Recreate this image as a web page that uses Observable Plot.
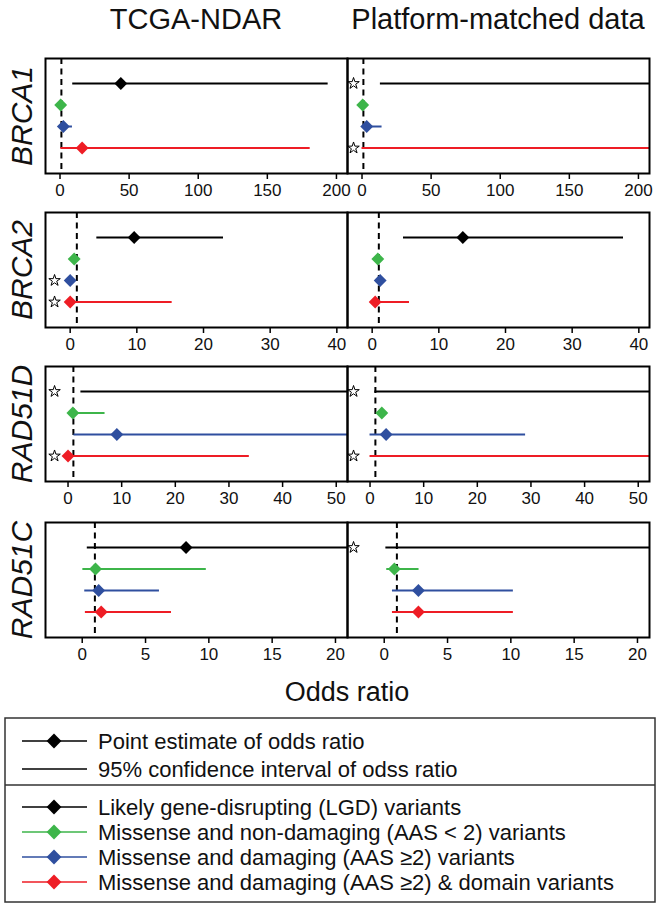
<!DOCTYPE html>
<html>
<head>
<meta charset="utf-8">
<script src="https://cdn.jsdelivr.net/npm/d3@7"></script>
<script src="https://cdn.jsdelivr.net/npm/@observablehq/plot@0.6"></script>
<style>
  html, body { margin: 0; padding: 0; background: white; }
  #root { position: relative; width: 661px; height: 908px; font-family: 'Liberation Sans', Arial, Helvetica, sans-serif; color: #111; overflow: hidden; }
  .abs { position: absolute; }
  .title { font-size: 29px; white-space: nowrap; transform: translate(-50%, -50%); }
  .gene { font-size: 30px; font-style: italic; white-space: nowrap; transform: translate(-50%, -50%) rotate(-90deg); }
</style>
</head>
<body>
<div id="root"></div>
<script>
// ---------------- data ----------------
const genes = ["BRCA1", "BRCA2", "RAD51D", "RAD51C"];
const datasets = ["TCGA-NDAR", "Platform-matched data"];
const variantLabels = [
  "Likely gene-disrupting (LGD) variants",
  "Missense and non-damaging (AAS < 2) variants",
  "Missense and damaging (AAS \u22652) variants",
  "Missense and damaging (AAS \u22652) & domain variants"
];
const variantColors = ["#000000", "#3db54a", "#2f4f9f", "#ee1d25"];
const xDomains = [[-10.5, 208], [-3.7, 41.6], [-4.2, 52.1], [-2.9, 20.95]];
const xTicks = [[0, 50, 100, 150, 200], [0, 10, 20, 30, 40], [0, 10, 20, 30, 40, 50], [0, 5, 10, 15, 20]];
const nullOddsRatio = 1;

// [gene][variant class]
const tcgaEst  = [[44, 0.5, 2.4, 16], [9.6, 0.6, 0, 0], [null, 0.9, 9.1, 0], [8.2, 1.05, 1.3, 1.5]];
const tcgaLow  = [[9.2, 0.2, 0.5, 0.6], [4.0, 0.3, null, 0], [2.4, 0.1, 1.1, 0], [0.4, 0.05, 0.2, 0.25]];
const tcgaHigh = [[194, 1.0, 9, 181], [23.0, 1.2, null, 15.3], [Infinity, 6.9, Infinity, 33.8], [Infinity, 9.8, 6.1, 7.05]];
const tcgaStar = [[0, 0, 0, 0], [0, 0, 1, 1], [1, 0, 0, 1], [0, 0, 0, 0]];

const platEst  = [[null, 0.5, 3.4, null], [13.6, 0.85, 1.2, 0.45], [null, 2.2, 3.0, null], [null, 0.8, 2.7, 2.7]];
const platLow  = [[13.3, 0.2, 0.6, 0], [4.7, 0.5, 0.8, 0.1], [0.9, 1.6, 0, 0], [0.13, 0.2, 0.65, 0.65]];
const platHigh = [[Infinity, 1.0, 14.5, Infinity], [37.7, 1.3, 1.7, 5.6], [Infinity, 2.8, 29, Infinity], [Infinity, 2.75, 10.2, 10.2]];
const platStar = [[1, 0, 0, 1], [0, 0, 0, 0], [1, 0, 0, 1], [1, 0, 0, 0]];

const legendTop = ["Point estimate of odds ratio", "95% confidence interval of odss ratio"];

// ---------------- layout ----------------
const FONT = "'Liberation Sans', Arial, Helvetica, sans-serif";
const root = document.getElementById("root");
const panelLeft = [45, 347];
const panelWidth = 302;
const panelTop = [58, 212, 366, 522];
const panelHeight = 115;
const M = 2, MB = 45;
const starFrac = [0.03, 0.02];

function addDiv(cls, text, x, y, extra) {
  const d = document.createElement("div");
  d.className = "abs " + cls;
  d.textContent = text;
  d.style.left = x + "px";
  d.style.top = y + "px";
  if (extra) Object.assign(d.style, extra);
  root.appendChild(d);
  return d;
}

datasets.forEach((t, i) => addDiv("title", t, panelLeft[i] + panelWidth / 2, 19));
genes.forEach((g, i) => addDiv("gene", g, 22, panelTop[i] + panelHeight / 2));
addDiv("title", "Odds ratio", 347, 692, {fontSize: "27px"});

const allEst = [tcgaEst, platEst], allLow = [tcgaLow, platLow], allHigh = [tcgaHigh, platHigh], allStar = [tcgaStar, platStar];

genes.forEach((gene, g) => {
  datasets.forEach((ds, d) => {
    const dom = xDomains[g];
    const rows = variantColors.map((color, v) => {
      const hi = allHigh[d][g][v];
      return {
        row: v + 1,
        est: allEst[d][g][v],
        lo: allLow[d][g][v],
        hi: hi == null ? null : Math.min(hi, dom[1]),
        star: !!allStar[d][g][v],
        color
      };
    });
    const starX = dom[0] + starFrac[d] * (dom[1] - dom[0]);
    const marks = [
      Plot.ruleX([nullOddsRatio], {stroke: "black", strokeDasharray: "6,4.5", strokeWidth: 2}),
      Plot.ruleY(rows.filter(r => r.lo != null && r.hi != null), {x1: "lo", x2: "hi", y: "row", stroke: "color", strokeWidth: 2}),
      Plot.dot(rows.filter(r => r.est != null), {x: "est", y: "row", symbol: "diamond2", r: 5.8, fill: "color", stroke: "none"}),
      Plot.dot(rows.filter(r => r.star), {x: () => starX, y: "row", symbol: "star", r: 3.6, fill: "white", stroke: "black", strokeWidth: 1}),
      Plot.frame({stroke: "black", strokeWidth: 2})
    ];
    let xOpts = {domain: dom};
    if (Plot.axisX) {
      xOpts.axis = null;
      marks.push(Plot.axisX({ticks: xTicks[g], tickSize: 6, tickPadding: 4, fontSize: 17, label: null, strokeWidth: 1.5, stroke: "black", fill: "#111"}));
    } else {
      Object.assign(xOpts, {ticks: xTicks[g], tickSize: 6, tickPadding: 4, label: null});
    }
    const svg = Plot.plot({
      width: panelWidth + 2 * M,
      height: panelHeight + M + MB,
      marginTop: M, marginLeft: M, marginRight: M, marginBottom: MB,
      x: xOpts,
      y: {domain: [5.186, -0.163], axis: null},
      color: {type: "identity"},
      style: {background: "transparent", overflow: "visible", fontFamily: FONT, fontSize: "17px", color: "black"},
      marks
    });
    svg.style.position = "absolute";
    svg.style.left = (panelLeft[d] - M) + "px";
    svg.style.top = (panelTop[g] - M) + "px";
    svg.style.maxWidth = "none";
    root.appendChild(svg);
  });
});

// ---------------- legend ----------------
const lg = d3.select(root).append("svg")
  .attr("width", 661).attr("height", 908)
  .style("position", "absolute").style("left", "0px").style("top", "0px")
  .style("pointer-events", "none");
lg.append("rect").attr("x", 5).attr("y", 718).attr("width", 650).attr("height", 184)
  .attr("fill", "none").attr("stroke", "#333").attr("stroke-width", 1.5);
lg.append("line").attr("x1", 5).attr("x2", 655).attr("y1", 785).attr("y2", 785)
  .attr("stroke", "#333").attr("stroke-width", 1.5);
const diamond = d3.symbol(d3.symbolDiamond2, 140);
const entries = [
  {text: legendTop[0], color: "#000", dia: true, y: 741},
  {text: legendTop[1], color: "#000", dia: false, y: 769},
  ...variantLabels.map((t, i) => ({text: t, color: variantColors[i], dia: true, y: 807 + i * 25}))
];
entries.forEach(e => {
  lg.append("line").attr("x1", 22).attr("x2", 87).attr("y1", e.y).attr("y2", e.y)
    .attr("stroke", e.color).attr("stroke-width", 1.5);
  if (e.dia) lg.append("path").attr("d", diamond()).attr("transform", `translate(54,${e.y})`).attr("fill", e.color);
  lg.append("text").attr("x", 98).attr("y", e.y).attr("dy", "0.35em")
    .attr("font-family", FONT).attr("font-size", 22).attr("fill", "#111").text(e.text);
});
</script>
</body>
</html>
